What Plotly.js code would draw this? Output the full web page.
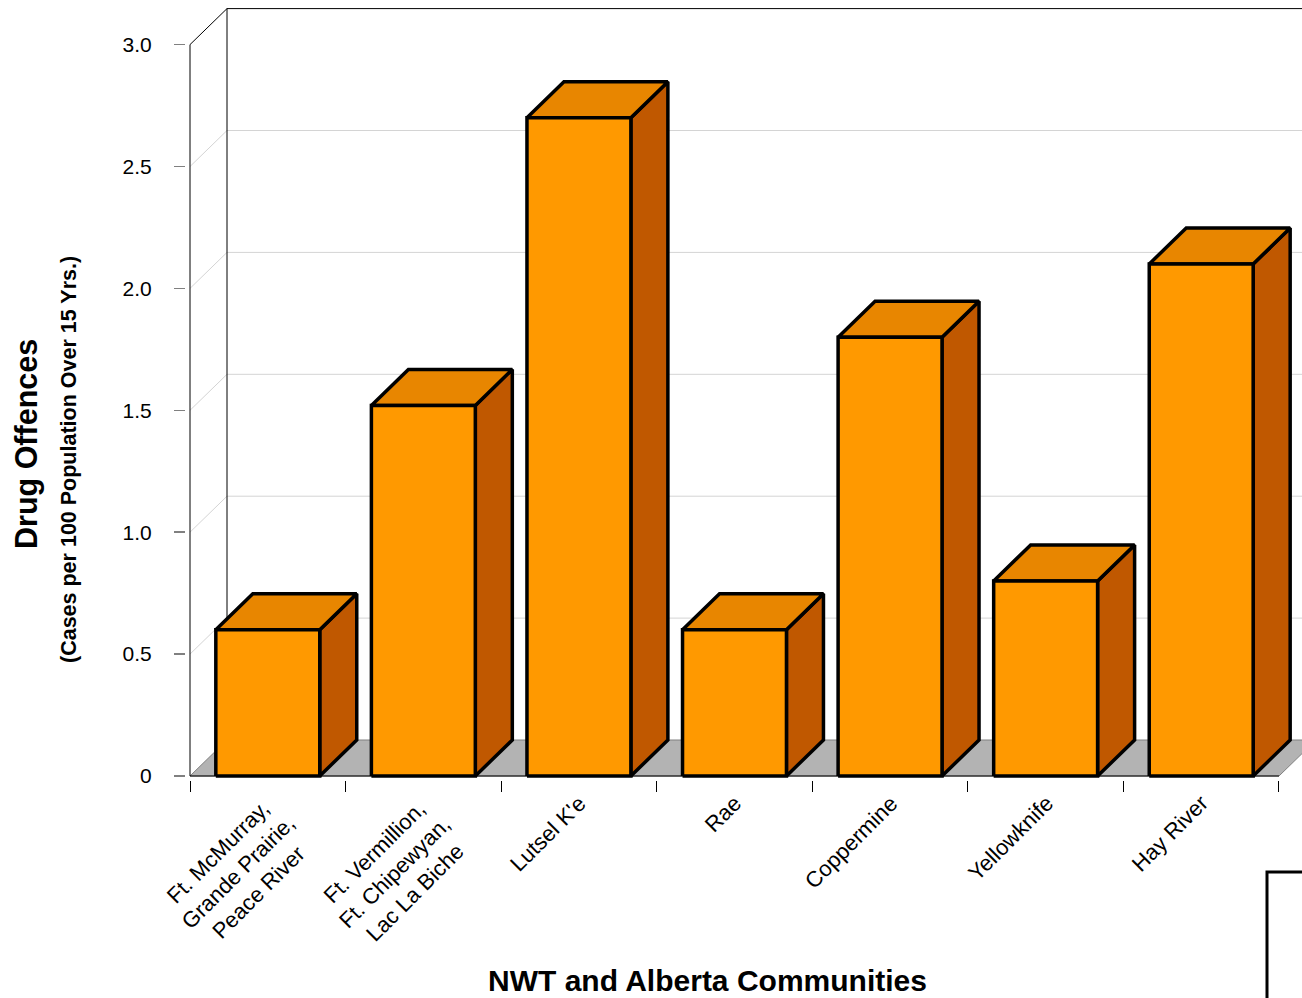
<!DOCTYPE html>
<html>
<head>
<meta charset="utf-8">
<script src="https://cdn.plot.ly/plotly-3.0.1.min.js"></script>
<style>
  html, body { margin: 0; padding: 0; background: #ffffff; }
  #chart { width: 1302px; height: 998px; }
</style>
</head>
<body>
<div id="chart"></div>
<script>
// Community groups and their drug offence rates (cases per 100 population over 15 yrs.)
const communities = [
  'Ft. McMurray,<br>Grande Prairie,<br>Peace River',
  'Ft. Vermillion,<br>Ft. Chipewyan,<br>Lac La Biche',
  "Lutsel K'e",
  'Rae',
  'Coppermine',
  'Yellowknife',
  'Hay River'
];
const drugOffences = [0.6, 1.52, 2.7, 0.6, 1.8, 0.8, 2.1];

const yTickVals = [0, 0.5, 1.0, 1.5, 2.0, 2.5, 3.0];
const yTickText = ['0', '0.5', '1.0', '1.5', '2.0', '2.5', '3.0'];

// ---- pseudo-3D geometry (in axis units) ----
const PX_PER_X = 155.57;          // pixels per category
const PX_PER_Y = 243.8;           // pixels per unit of rate
const DEPTH_X = 37 / PX_PER_X;    // receding offset of the back plane
const DEPTH_Y = 36 / PX_PER_Y;
const HALF_W = 0.334;             // half of a bar's front width
const N = communities.length;
const X0 = -0.5, X1 = N - 0.5;
const Y_TOP = yTickVals[yTickVals.length - 1];

const FONT = "'Liberation Sans', Arial, sans-serif";
const FRONT = '#FF9900', TOP = '#E88600', SIDE = '#C05800';

const traces = [];
function line(xs, ys, color, width) {
  traces.push({
    type: 'scatter', mode: 'lines', x: xs, y: ys,
    line: { color: color, width: width }, hoverinfo: 'skip', showlegend: false
  });
}
function poly(xs, ys, fill, lineColor, width) {
  traces.push({
    type: 'scatter', mode: 'lines', x: xs, y: ys, fill: 'toself', fillcolor: fill,
    line: { color: lineColor, width: width, shape: 'linear' },
    hoverinfo: 'skip', showlegend: false
  });
}

const xRightEdge = X1 + 2;

// floor
poly([X0, X1, X1 + DEPTH_X, X0 + DEPTH_X, X0],
     [0, 0, DEPTH_Y, DEPTH_Y, 0], '#B3B3B3', '#808080', 1);

// back wall gridlines and side-wall diagonals
yTickVals.forEach(function (v) {
  if (v === 0) return;
  const c = v === Y_TOP ? '#000000' : '#D4D4D4';
  line([X0 + DEPTH_X, xRightEdge], [v + DEPTH_Y, v + DEPTH_Y], c, 1);
  line([X0, X0 + DEPTH_X], [v, v + DEPTH_Y], c, 1);
});

// back wall left edge and front value axis
line([X0 + DEPTH_X, X0 + DEPTH_X], [DEPTH_Y, Y_TOP + DEPTH_Y], '#000000', 1);
line([X0, X0], [0, Y_TOP], '#000000', 1);
// front edge of the floor
line([X0, X1], [0, 0], '#000000', 1.2);

// bars: side, top and front faces, one polygon per face
const sideX = [], sideY = [], topX = [], topY = [], frontX = [], frontY = [];
drugOffences.forEach(function (v, i) {
  const l = i - HALF_W, r = i + HALF_W;
  sideX.push(r, r + DEPTH_X, r + DEPTH_X, r, r, null);
  sideY.push(0, DEPTH_Y, v + DEPTH_Y, v, 0, null);
  topX.push(l, r, r + DEPTH_X, l + DEPTH_X, l, null);
  topY.push(v, v, v + DEPTH_Y, v + DEPTH_Y, v, null);
  frontX.push(l, r, r, l, l, null);
  frontY.push(0, 0, v, v, 0, null);
});
poly(sideX, sideY, SIDE, '#000000', 3.5);
poly(topX, topY, TOP, '#000000', 3.5);
poly(frontX, frontY, FRONT, '#000000', 3.5);

// plot area placement
const plotLeft = 186, plotTop = 5, plotBottom = 780, W = 1302, H = 998;
const xMin = X0 - (190 - plotLeft) / PX_PER_X;
const xMax = xMin + (W - plotLeft) / PX_PER_X;
const yMin = -(plotBottom - 776) / PX_PER_Y;
const yMax = yMin + (plotBottom - plotTop) / PX_PER_Y;

const boundaries = [];
for (let k = 0; k <= N; k++) boundaries.push(k - 0.5);

// category labels: rotated 45°, lines centred, top-right corner of the text block
// hung just below each category centre
const LABEL_SIZE = 22;
const categoryLabels = communities.map(function (txt, i) {
  const lines = txt.split('<br>').length;
  const boxH = LABEL_SIZE * (1.117 + 1.3 * (lines - 1)) + 2;
  return {
    text: txt, xref: 'x', yref: 'paper', x: i, y: 0,
    xanchor: 'right', yanchor: 'top', textangle: -45, align: 'center',
    xshift: -4 + Math.SQRT1_2 * boxH, yshift: -8,
    showarrow: false, font: { family: FONT, size: LABEL_SIZE, color: '#000000' }
  };
});

const layout = {
  width: W, height: H,
  margin: { l: plotLeft, r: 0, t: plotTop, b: H - plotBottom, pad: 0 },
  paper_bgcolor: '#ffffff', plot_bgcolor: '#ffffff',
  showlegend: false,
  font: { family: FONT, color: '#000000' },
  xaxis: {
    range: [xMin, xMax], showgrid: false, zeroline: false, showline: false,
    tickmode: 'array', tickvals: communities.map(function (_, i) { return i; }),
    ticks: '', showticklabels: false,
    minor: { tickmode: 'array', tickvals: boundaries, ticks: 'outside', ticklen: 11,
             tickwidth: 1, tickcolor: '#000000', showgrid: false },
    fixedrange: true
  },
  yaxis: {
    range: [yMin, yMax], showgrid: false, zeroline: false, showline: false,
    tickmode: 'array', tickvals: yTickVals, ticktext: yTickText,
    ticks: 'outside', ticklen: 11, tickwidth: 1.5, tickcolor: '#808080',
    ticklabelstandoff: 18,
    tickfont: { family: FONT, size: 21, color: '#000000' },
    fixedrange: true
  },
  annotations: categoryLabels.concat([
    { text: '<b>NWT and Alberta Communities</b>', xref: 'paper', yref: 'paper',
      x: (707 - plotLeft) / (W - plotLeft), y: (plotBottom - 980) / (plotBottom - plotTop),
      xanchor: 'center', yanchor: 'middle', showarrow: false,
      font: { family: FONT, size: 30, color: '#000000' } },
    { text: '<b>Drug Offences</b>', xref: 'paper', yref: 'paper', textangle: -90,
      x: (27 - plotLeft) / (W - plotLeft), y: (plotBottom - 444) / (plotBottom - plotTop),
      xanchor: 'center', yanchor: 'middle', showarrow: false,
      font: { family: FONT, size: 30.5, color: '#000000' } },
    { text: '<b>(Cases per 100 Population Over 15 Yrs.)</b>', xref: 'paper', yref: 'paper', textangle: -90,
      x: (69 - plotLeft) / (W - plotLeft), y: (plotBottom - 460) / (plotBottom - plotTop),
      xanchor: 'center', yanchor: 'middle', showarrow: false,
      font: { family: FONT, size: 21.5, color: '#000000' } }
  ]),
  shapes: [
    // legend frame at the lower right corner
    { type: 'rect', xref: 'paper', yref: 'paper',
      x0: (1267 - plotLeft) / (W - plotLeft), x1: 1.05,
      y0: -0.4, y1: (plotBottom - 872) / (plotBottom - plotTop),
      line: { color: '#000000', width: 3 }, fillcolor: '#ffffff' }
  ]
};

Plotly.newPlot('chart', traces, layout, { staticPlot: true, displayModeBar: false });
</script>
</body>
</html>
